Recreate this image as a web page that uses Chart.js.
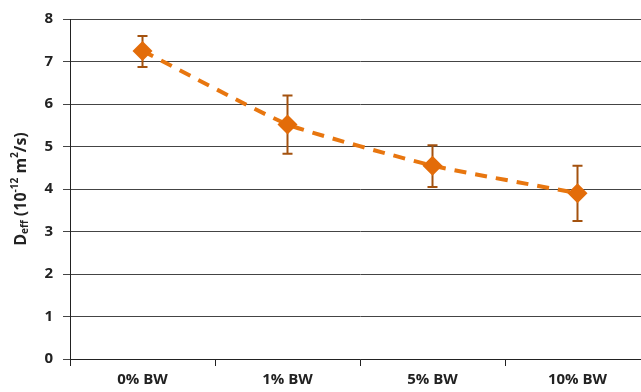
<!DOCTYPE html>
<html>
<head>
<meta charset="utf-8">
<script src="https://cdn.jsdelivr.net/npm/chart.js@4"></script>
<style>
  html, body { margin: 0; padding: 0; background: #fff; overflow: hidden; }
  #wrap { width: 660px; height: 392px; position: relative; }
</style>
</head>
<body>
<div id="wrap"><canvas id="deffChart"></canvas></div>
<script>
// Data
const categories = ['0% BW', '1% BW', '5% BW', '10% BW'];
const deffValues = [7.25, 5.52, 4.55, 3.9];
const errHigh = [7.6, 6.2, 5.03, 4.55];
const errLow = [6.87, 4.83, 4.05, 3.25];

const tickFont = { family: 'Open Sans, Liberation Sans, sans-serif', size: 15, weight: 'bold' };

// Draws the vertical error bars with caps (under the markers)
const errorBarPlugin = {
  id: 'errorBars',
  beforeDatasetsDraw(chart) {
    const ctx = chart.ctx;
    const xs = chart.scales.x;
    const ys = chart.scales.y;
    ctx.save();
    ctx.strokeStyle = '#A4520F';
    ctx.lineWidth = 2;
    categories.forEach((c, i) => {
      const x = xs.getPixelForValue(i);
      const top = ys.getPixelForValue(errHigh[i]);
      const bot = ys.getPixelForValue(errLow[i]);
      ctx.beginPath();
      ctx.moveTo(x, top); ctx.lineTo(x, bot);
      ctx.moveTo(x - 5, top); ctx.lineTo(x + 5, top);
      ctx.moveTo(x - 5, bot); ctx.lineTo(x + 5, bot);
      ctx.stroke();
    });
    ctx.restore();
  }
};

// Y axis title with subscript and superscripts
const yTitlePlugin = {
  id: 'yTitle',
  afterDraw(chart) {
    const ctx = chart.ctx;
    const area = chart.chartArea;
    const cy = (area.top + area.bottom) / 2;
    const parts = [
      { t: 'D', size: 16, dy: 0 },
      { t: 'eff', size: 10, dy: 4 },
      { t: ' (10', size: 16, dy: 0 },
      { t: '-12', size: 10, dy: -6 },
      { t: ' m', size: 16, dy: 0 },
      { t: '2', size: 10, dy: -6 },
      { t: '/s)', size: 16, dy: 0 }
    ];
    ctx.save();
    ctx.fillStyle = '#222';
    ctx.textBaseline = 'middle';
    let total = 0;
    parts.forEach(p => {
      ctx.font = 'bold ' + p.size + 'px ' + tickFont.family;
      p.w = ctx.measureText(p.t).width;
      total += p.w;
    });
    ctx.translate(21, cy);
    ctx.rotate(-Math.PI / 2);
    let x = -total / 2;
    parts.forEach(p => {
      ctx.font = 'bold ' + p.size + 'px ' + tickFont.family;
      ctx.fillText(p.t, x, p.dy);
      x += p.w;
    });
    ctx.restore();
  }
};

new Chart(document.getElementById('deffChart'), {
  type: 'line',
  data: {
    labels: categories,
    datasets: [{
      data: deffValues,
      borderColor: '#E8760F',
      borderWidth: 4,
      borderDash: [12, 9],
      tension: 0.15,
      pointStyle: 'rectRot',
      pointRadius: 10,
      pointBackgroundColor: '#E36C09',
      pointBorderColor: '#E36C09',
      pointBorderWidth: 0
    }]
  },
  options: {
    responsive: true,
    maintainAspectRatio: false,
    animation: false,
    layout: { padding: { top: 19, right: 8, left: 0, bottom: 0 } },
    plugins: {
      legend: { display: false },
      tooltip: { enabled: false }
    },
    scales: {
      x: {
        offset: true,
        afterFit: function(scale) { scale.height = 33; },
        grid: {
          drawOnChartArea: false,
          tickLength: 7,
          color: '#222',
          offset: true
        },
        border: { color: '#222', width: 1 },
        ticks: { color: '#222', font: tickFont, padding: 5, maxRotation: 0 }
      },
      y: {
        min: 0,
        max: 8,
        afterFit: function(scale) { scale.width = 70; },
        grid: { color: '#444', tickLength: 7, lineWidth: 1 },
        border: { color: '#222', width: 1 },
        ticks: { stepSize: 1, color: '#222', font: tickFont, padding: 10 }
      }
    }
  },
  plugins: [errorBarPlugin, yTitlePlugin]
});
</script>
</body>
</html>
